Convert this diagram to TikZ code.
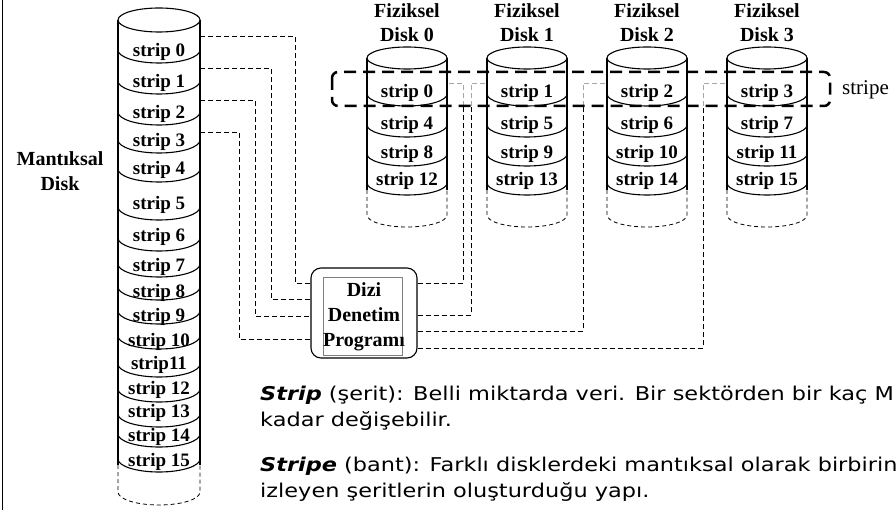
\documentclass[tikz,border=0pt]{standalone}
\usepackage{fontspec}
\setmainfont{Liberation Serif}
\newfontfamily\comic{DejaVu Sans}[FakeStretch=1.18,BoldFont={DejaVu Sans Bold},ItalicFont={DejaVu Sans Oblique},BoldItalicFont={DejaVu Sans Bold Oblique}]
\usetikzlibrary{calc}
\begin{document}
\begin{tikzpicture}[x=1pt,y=-1pt,
  lbl/.style={font=\fontsize{19}{19}\selectfont\bfseries, inner sep=0pt},
  hdr/.style={font=\fontsize{20}{24}\selectfont\bfseries, inner sep=0pt, align=center},
  side/.style={line width=1.8pt},
  arcline/.style={line width=1.1pt},
  dsh/.style={line width=0.8pt, dash pattern=on 4pt off 3pt},
  conn/.style={line width=0.9pt, dash pattern=on 5pt off 3pt},
  connfaint/.style={gray!70, line width=0.7pt, dash pattern=on 5pt off 3pt},
  stripebox/.style={line width=2.5pt, dash pattern=on 12pt off 7pt, rounded corners=6pt},
  txt/.style={font=\comic\fontsize{19}{22}\selectfont, inner sep=0pt, anchor=base west},
]
\useasboundingbox (0,0) rectangle (896,510);
\fill[white] (0,0) rectangle (896,510);
\draw[line width=1.6pt] (2.5,0) -- (2.5,510);

% ---------- logical disk ----------
\draw[side] (118,20) -- (118,465) (200,20) -- (200,465);
\draw[arcline, fill=white] (159,20) ellipse [x radius=41pt, y radius=12pt];
\foreach \b in {63,94,125,153,182,220,251,277,300,324,349,377,402,427,447,472}
  \draw[arcline] (118,\b-13) arc[start angle=180, end angle=360, x radius=41pt, y radius=13pt];
\draw[dsh] (118,465) -- (118,492) arc[start angle=180, end angle=360, x radius=41pt, y radius=13pt] -- (200,465);
\foreach \n/\y in {0/52,1/83,2/114,3/142,4/170,5/205,6/237,7/267,8/293,9/317,10/342,12/390,13/413,14/437,15/462}
  \node[lbl] (ls\n) at (159,\y) {strip \n};
\node[lbl] (ls11) at (159,365) {strip11};
\node[hdr, font=\fontsize{20}{25}\selectfont\bfseries] (mlabel) at (60,171) {Mantıksal\\Disk};

% ---------- physical disks ----------
\foreach \i in {0,...,3}{
  \pgfmathsetmacro\cx{407+120*\i}
  \draw[side] (\cx-40,58) -- (\cx-40,190) (\cx+40,58) -- (\cx+40,190);
  \draw[arcline, fill=white] (\cx,58) ellipse [x radius=40pt, y radius=11pt];
  \foreach \b in {106,137,166,195}
    \draw[arcline] (\cx-40,\b-12) arc[start angle=180, end angle=360, x radius=40pt, y radius=12pt];
  \draw[dsh] (\cx-40,190) -- (\cx-40,215) arc[start angle=180, end angle=360, x radius=40pt, y radius=12pt] -- (\cx+40,190);
  \foreach \r/\y in {0/93,1/125,2/154,3/181}{
    \pgfmathtruncatemacro\n{\i+4*\r}
    \node[lbl] (p\i-\r) at (\cx,\y) {strip \n};
  }
  \node[hdr] (h\i) at (\cx,23) {Fiziksel\\Disk \i};
}

% ---------- controller ----------
\node[draw, line width=1.1pt, rounded corners=10pt, minimum width=106pt, minimum height=90pt, fill=white, inner sep=0pt] (ctrl) at (364,313) {};
\node[draw=gray, line width=0.5pt, minimum width=79pt, minimum height=78pt, inner sep=0pt] (ctrlin) at (362.5,316) {};
\node[font=\fontsize{20}{25}\selectfont\bfseries, align=center, inner sep=0pt] (ctrltxt) at (364,317) {Dizi\\Denetim\\Programı};

% ---------- connectors: logical disk -> controller ----------
\coordinate (L0) at (200,36);
\coordinate (L1) at (200,68);
\coordinate (L2) at (200,100);
\coordinate (L3) at (200,132);
\draw[conn] (L0) -- (295,36) -- (295,283) -- (ctrl.west |- 0,283);
\draw[conn] (L1) -- (271,68) -- (271,299) -- (ctrl.west |- 0,299);
\draw[conn] (L2) -- (255,100) -- (255,316) -- (ctrl.west |- 0,316);
\draw[conn] (L3) -- (239,132) -- (239,339) -- (ctrl.west |- 0,339);

% ---------- connectors: controller -> physical disks ----------
\coordinate (D0) at (447,83);
\coordinate (D1) at (487,83);
\coordinate (D2) at (607,83);
\coordinate (D3) at (727,83);
\draw[conn] (ctrl.east |- 0,283) -- (463,283) -- (463,106);
\draw[connfaint] (463,106) -- (463,83) -- (D0);
\draw[conn] (ctrl.east |- 0,315) -- (471,315) -- (471,106);
\draw[connfaint] (471,106) -- (471,83) -- (D1);
\draw[conn] (ctrl.east |- 0,331) -- (583,331) -- (583,106);
\draw[connfaint] (583,106) -- (583,83) -- (D2);
\draw[conn] (ctrl.east |- 0,348) -- (703,348) -- (703,106);
\draw[connfaint] (703,106) -- (703,83) -- (D3);

% ---------- stripe ----------
\draw[stripebox] (332,72) rectangle (830,106);
\node[font=\fontsize{21}{21}\selectfont, anchor=west, inner sep=0pt] (stripelbl) at (842,90) {stripe};

% ---------- notes ----------
\node[txt] (t1) at (260,400) {{\bfseries\itshape Strip} (şerit): Belli miktarda veri. Bir sektörden bir kaç M};
\node[txt] (t2) at (260,426) {kadar değişebilir.};
\node[txt] (t3) at (260,471) {{\bfseries\itshape Stripe} (bant): Farklı disklerdeki mantıksal olarak birbirin};
\node[txt] (t4) at (260,497) {izleyen şeritlerin oluşturduğu yapı.};
\end{tikzpicture}
\end{document}
